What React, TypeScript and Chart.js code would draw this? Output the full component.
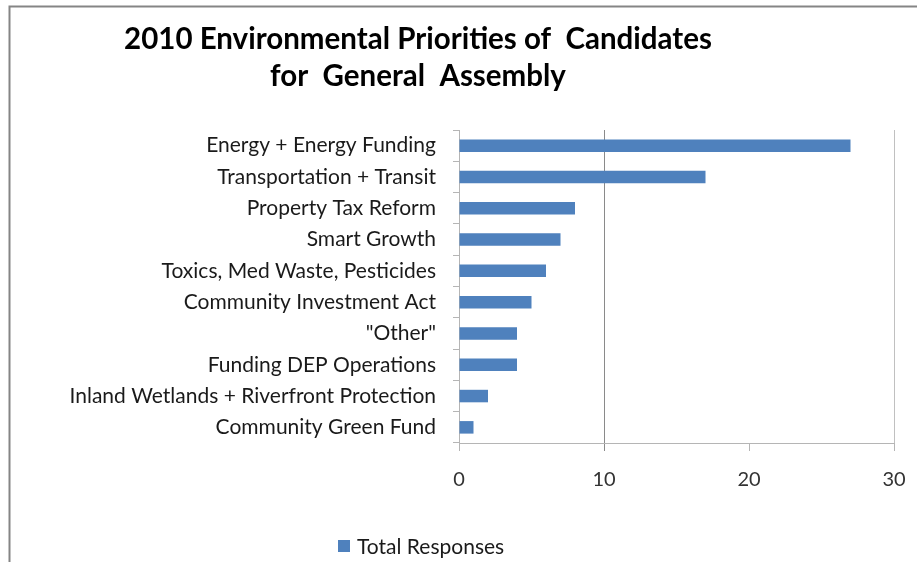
import React, { useEffect, useRef } from "react";
import { Chart, registerables } from "chart.js";

Chart.register(...registerables);

const categories: string[] = [
  "Energy + Energy Funding",
  "Transportation + Transit",
  "Property Tax Reform",
  "Smart Growth",
  "Toxics, Med Waste, Pesticides",
  "Community Investment Act",
  "\"Other\"",
  "Funding DEP Operations",
  "Inland Wetlands + Riverfront Protection",
  "Community Green Fund",
];

const totalResponses: number[] = [27, 17, 8, 7, 6, 5, 4, 4, 2, 1];

const seriesName = "Total Responses";
const titleLines: string[] = ["2010 Environmental Priorities of  Candidates", "for  General  Assembly"];
const xTicks: number[] = [0, 10, 20, 30];

const BAR_COLOR = "#4F81BD";
const FONT = "Lato, 'Open Sans', sans-serif";

const decorPlugin = {
  id: "decor",
  beforeDraw(chart: any) {
    const ctx = chart.ctx;
    ctx.save();
    ctx.fillStyle = "#ffffff";
    ctx.fillRect(0, 0, chart.width, chart.height);
    // outer frame (top and left edges)
    ctx.strokeStyle = "#858585";
    ctx.lineWidth = 2;
    ctx.beginPath();
    ctx.moveTo(chart.width, 6.5);
    ctx.lineTo(9.5, 6.5);
    ctx.lineTo(9.5, chart.height);
    ctx.stroke();
    ctx.restore();
  },
  afterDraw(chart: any) {
    const ctx = chart.ctx;
    ctx.save();
    // title
    ctx.fillStyle = "#000000";
    ctx.font = `bold 29.5px ${FONT}`;
    ctx.textAlign = "center";
    ctx.textBaseline = "alphabetic";
    ctx.fillText(titleLines[0], 418, 49);
    ctx.fillText(titleLines[1], 418, 86);
    // legend
    ctx.fillStyle = BAR_COLOR;
    ctx.fillRect(338, 540, 12, 12);
    ctx.fillStyle = "#1a1a1a";
    ctx.font = `21px ${FONT}`;
    ctx.textAlign = "left";
    ctx.fillText(seriesName, 357, 554);
    ctx.restore();
  },
};

export default function App() {
  const ref = useRef<HTMLCanvasElement | null>(null);

  useEffect(() => {
    if (!ref.current) return;
    const chart = new Chart(ref.current, {
      type: "bar",
      data: {
        labels: categories,
        datasets: [
          {
            label: seriesName,
            data: totalResponses,
            backgroundColor: BAR_COLOR,
            categoryPercentage: 0.4,
            barPercentage: 1,
          },
        ],
      },
      options: {
        indexAxis: "y",
        responsive: false,
        animation: false,
        devicePixelRatio: 1,
        layout: { padding: { left: 20, top: 130, right: 23, bottom: 64 } },
        plugins: {
          legend: { display: false },
          title: { display: false },
          tooltip: { enabled: false },
        },
        scales: {
          x: {
            min: 0,
            max: 30,
            afterBuildTicks: (scale: any) => {
              scale.ticks = xTicks.map((v) => ({ value: v }));
            },
            afterFit: (scale: any) => {
              scale.height = 55;
              scale.paddingLeft = 0;
              scale.paddingRight = 0;
            },
            border: { color: "#b5b5b5", width: 1 },
            grid: {
              color: (c: any) => {
                const v = c.tick ? c.tick.value : 0;
                if (v === 10) return "#8a8a8a";
                if (v === 30) return "#c0c0c0";
                return "rgba(0,0,0,0)";
              },
              tickColor: (c: any) => {
                const v = c.tick ? c.tick.value : 0;
                return v === 10 ? "#8a8a8a" : "#b5b5b5";
              },
              drawTicks: true,
              tickLength: 8,
            },
            ticks: {
              color: "#333333",
              font: { family: FONT, size: 20 },
              padding: 17,
              maxRotation: 0,
            },
          },
          y: {
            afterFit: (scale: any) => {
              scale.width = 439;
            },
            border: { color: "#b5b5b5", width: 1 },
            grid: {
              offset: true,
              drawOnChartArea: false,
              drawTicks: true,
              tickLength: 6,
              tickColor: "#b5b5b5",
            },
            ticks: {
              color: "#1a1a1a",
              font: { family: FONT, size: 21 },
              padding: 17,
              autoSkip: false,
            },
          },
        },
      },
      plugins: [decorPlugin],
    });
    return () => chart.destroy();
  }, []);

  return (
    <canvas
      ref={ref}
      width={917}
      height={562}
      style={{ position: "absolute", left: 0, top: 0, width: 917, height: 562 }}
    />
  );
}
